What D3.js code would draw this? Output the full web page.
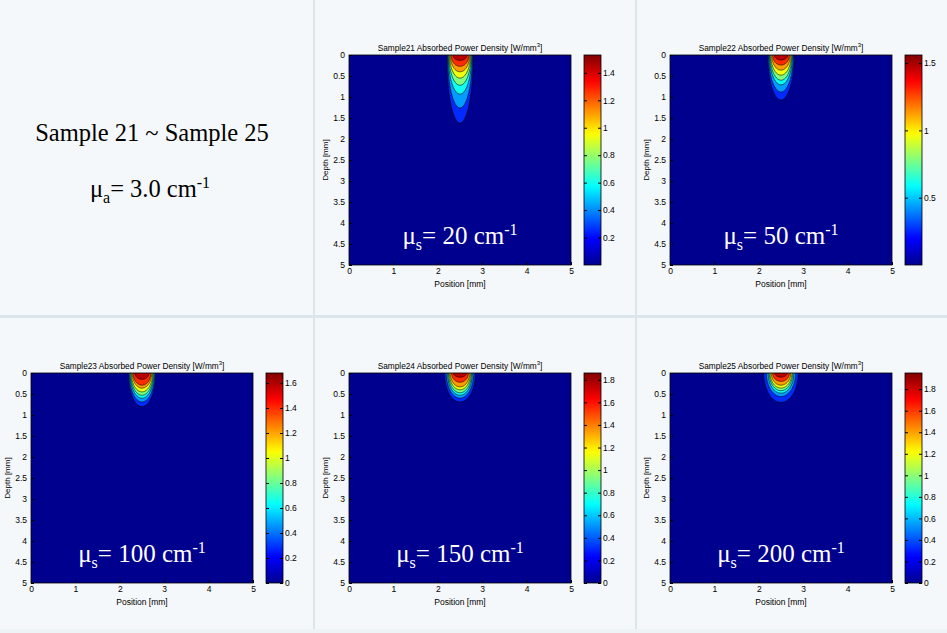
<!DOCTYPE html>
<html><head><meta charset="utf-8">
<script src="https://cdn.jsdelivr.net/npm/d3@7"></script>
<style>body{margin:0;background:#f5f8fa;} svg{display:block}</style>
</head><body>
<script>
// ---------- data ----------
const sampleNames = ["Sample21","Sample22","Sample23","Sample24","Sample25"];
const muSValues = [20, 50, 100, 150, 200];
const colorMax = [1.53, 1.56, 1.68, 1.86, 1.95];
const colorbarTicks = [
  [0.2,0.4,0.6,0.8,1,1.2,1.4],
  [0.5,1,1.5],
  [0,0.2,0.4,0.6,0.8,1,1.2,1.4,1.6],
  [0,0.2,0.4,0.6,0.8,1,1.2,1.4,1.6,1.8],
  [0,0.2,0.4,0.6,0.8,1,1.2,1.4,1.6,1.8]
];
const xTickValues = [0,1,2,3,4,5];
const yTickValues = [0,0.5,1,1.5,2,2.5,3,3.5,4,4.5,5];
const beamCenter = [2.5, 2.5, 2.5, 2.5, 2.5];
// contour levels (W/mm^3), outer -> inner
const levels21 = [0.17,0.34,0.51,0.68,0.85,1.02,1.19,1.36];
const levels22 = [0.173,0.347,0.52,0.693,0.867,1.04,1.213,1.387];
const levels23 = [0.187,0.373,0.56,0.747,0.933,1.12,1.307,1.493];
const levels24 = [0.207,0.413,0.62,0.827,1.033,1.24,1.447,1.653];
const levels25 = [0.217,0.433,0.65,0.867,1.083,1.3,1.517,1.733];
// depth reached by each contour (mm)
const depth21 = [1.62,1.26,0.93,0.72,0.55,0.40,0.27,0.13];
const depth22 = [1.07,0.88,0.71,0.60,0.48,0.36,0.24,0.12];
const depth23 = [0.80,0.69,0.60,0.53,0.45,0.36,0.29,0.15];
const depth24 = [0.69,0.60,0.53,0.47,0.40,0.33,0.22,0.10];
const depth25 = [0.70,0.56,0.48,0.42,0.36,0.29,0.20,0.10];
// half width of each contour at the surface (mm)
const halfWidth21 = [0.30,0.28,0.265,0.25,0.235,0.22,0.20,0.16];
const halfWidth22 = [0.30,0.28,0.26,0.245,0.23,0.21,0.19,0.15];
const halfWidth23 = [0.31,0.29,0.27,0.255,0.24,0.22,0.20,0.16];
const halfWidth24 = [0.35,0.31,0.28,0.26,0.24,0.22,0.19,0.15];
const halfWidth25 = [0.39,0.33,0.29,0.265,0.245,0.22,0.19,0.14];
const levelSets = [levels21, levels22, levels23, levels24, levels25];
const depthSets = [depth21, depth22, depth23, depth24, depth25];
const widthSets = [halfWidth21, halfWidth22, halfWidth23, halfWidth24, halfWidth25];

// ---------- layout ----------
const W = 947, H = 633;
const cellCol = [1,2,0,1,2], cellRow = [0,0,1,1,1];
const plotLeftByCol = [31,349,670], plotTopByRow = [55,373];
const PW = 222, PH = 210, CB_OFF = 235, CB_W = 17;
const jet = d3.scaleLinear()
  .domain([0,0.125,0.375,0.625,0.875,1])
  .range(["#00008f","#0000ff","#00ffff","#ffff00","#ff0000","#800000"])
  .clamp(true);

const svg = d3.select("body").append("svg").attr("width",W).attr("height",H)
  .style("font-family","'Liberation Sans', Arial, sans-serif");
const defs = svg.append("defs");
svg.append("rect").attr("width",W).attr("height",H).attr("fill","#f5f8fa");
// table grid
const gridCol = "#dbe5ec";
[313,635].forEach(x=>svg.append("rect").attr("x",x).attr("y",0).attr("width",2).attr("height",H).attr("fill",gridCol));
svg.append("rect").attr("x",0).attr("y",315).attr("width",W).attr("height",3).attr("fill",gridCol);
svg.append("rect").attr("x",0).attr("y",629).attr("width",W).attr("height",4).attr("fill","#eef3f6");

// left cell text
const tl = svg.append("g").attr("font-family","'Liberation Serif','Times New Roman',serif").attr("fill","#000");
tl.append("text").attr("x",152).attr("y",141).attr("text-anchor","middle").attr("font-size",24.5).text("Sample 21 ~ Sample 25");
const mua = tl.append("text").attr("x",150).attr("y",197).attr("text-anchor","middle").attr("font-size",24.5);
mua.append("tspan").text("\u03bc");
mua.append("tspan").attr("font-size",16).attr("dy",6).text("a");
mua.append("tspan").attr("dy",-6).text("= 3.0 cm");
mua.append("tspan").attr("font-size",16).attr("dy",-9).text("-1");

// jet gradient
const grad = defs.append("linearGradient").attr("id","jetGrad").attr("x1",0).attr("y1",1).attr("x2",0).attr("y2",0);
d3.range(0,1.0001,0.02).forEach(t=>grad.append("stop").attr("offset",t).attr("stop-color",jet(t)));

const fmt = d => String(+d.toFixed(2));
const TICK_FS = 8.5;

sampleNames.forEach((name,i)=>{
  const L = plotLeftByCol[cellCol[i]], T = plotTopByRow[cellRow[i]];
  const x = d3.scaleLinear().domain([0,5]).range([L, L+PW]);
  const y = d3.scaleLinear().domain([0,5]).range([T, T+PH]);
  const g = svg.append("g");
  defs.append("clipPath").attr("id","clip"+i).append("rect").attr("x",L).attr("y",T).attr("width",PW).attr("height",PH);
  const plot = g.append("g").attr("clip-path",`url(#clip${i})`);
  const max = colorMax[i];
  const c = d3.scaleLinear().domain([0,max]).range([0,1]);
  plot.append("rect").attr("x",L).attr("y",T).attr("width",PW).attr("height",PH).attr("fill",jet(0));
  const lv = levelSets[i], dp = depthSets[i], hw = widthSets[i];
  const line = d3.line().x(p=>x(p[0])).y(p=>y(p[1]));
  lv.forEach((lev,k)=>{
    const next = k+1 < lv.length ? lv[k+1] : max;
    const pts = [[beamCenter[i]-hw[k], -0.1]];
    d3.range(-90,90.01,3).forEach(a=>{
      const r = a*Math.PI/180;
      pts.push([beamCenter[i] + hw[k]*Math.sin(r), dp[k]*Math.cos(r)]);
    });
    pts.push([beamCenter[i]+hw[k], -0.1]);
    plot.append("path").attr("d", line(pts)+"Z")
      .attr("fill", jet(c((lev+next)/2)))
      .attr("stroke","#000").attr("stroke-width",0.7).attr("stroke-opacity",0.85);
  });
  // axes
  const ax = g.append("g").attr("transform",`translate(0,${T+PH})`)
    .call(d3.axisBottom(x).tickValues(xTickValues).tickFormat(fmt).tickSizeInner(-3).tickSizeOuter(0).tickPadding(3));
  const ay = g.append("g").attr("transform",`translate(${L},0)`)
    .call(d3.axisLeft(y).tickValues(yTickValues).tickFormat(fmt).tickSizeInner(-3).tickSizeOuter(0).tickPadding(4));
  [ax,ay].forEach(a=>{
    a.selectAll("text").attr("font-size",TICK_FS).attr("fill","#000").attr("font-family","'Liberation Sans', Arial, sans-serif");
    a.select(".domain").remove();
    a.selectAll("line").attr("stroke","#000");
  });
  ay.selectAll("text").attr("dy","0.32em");
  g.append("rect").attr("x",L).attr("y",T).attr("width",PW).attr("height",PH)
    .attr("fill","none").attr("stroke","#000").attr("stroke-width",0.8);
  // labels
  g.append("text").attr("x",L+PW/2).attr("y",T+PH+22).attr("text-anchor","middle")
    .attr("font-size",8.5).text("Position [mm]");
  g.append("text").attr("transform",`translate(${L-21},${T+PH/2}) rotate(-90)`).attr("text-anchor","middle")
    .attr("font-size",8).text("Depth [mm]");
  const title = g.append("text").attr("x",L+PW/2).attr("y",T-4).attr("text-anchor","middle").attr("font-size",8.3);
  title.append("tspan").text(name + " Absorbed Power Density [W/mm");
  title.append("tspan").attr("font-size",6).attr("dy",-4).text("3");
  title.append("tspan").attr("dy",4).text("]");
  // mu_s label
  const ms = g.append("text").attr("x",L+PW/2).attr("y",T+189).attr("text-anchor","middle")
    .attr("font-family","'Liberation Serif','Times New Roman',serif").attr("font-size",25).attr("fill","#fff");
  ms.append("tspan").text("\u03bc");
  ms.append("tspan").attr("font-size",16).attr("dy",6).text("s");
  ms.append("tspan").attr("dy",-6).text("= " + muSValues[i] + " cm");
  ms.append("tspan").attr("font-size",16).attr("dy",-9).text("-1");
  // colorbar
  const CX = L + CB_OFF;
  const cy = d3.scaleLinear().domain([0,max]).range([T+PH, T]);
  g.append("rect").attr("x",CX).attr("y",T).attr("width",CB_W).attr("height",PH).attr("fill","url(#jetGrad)")
    .attr("stroke","#000").attr("stroke-width",0.8);
  const cr = g.append("g").attr("transform",`translate(${CX+CB_W},0)`)
    .call(d3.axisRight(cy).tickValues(colorbarTicks[i]).tickFormat(fmt).tickSizeInner(-3).tickSizeOuter(0).tickPadding(2));
  const cl = g.append("g").attr("transform",`translate(${CX},0)`)
    .call(d3.axisLeft(cy).tickValues(colorbarTicks[i]).tickFormat("").tickSizeInner(-3).tickSizeOuter(0));
  [cr,cl].forEach(a=>{ a.select(".domain").remove(); a.selectAll("line").attr("stroke","#000");
    a.selectAll("text").attr("font-size",TICK_FS).attr("fill","#000").attr("font-family","'Liberation Sans', Arial, sans-serif"); });
});
</script>
</body></html>
